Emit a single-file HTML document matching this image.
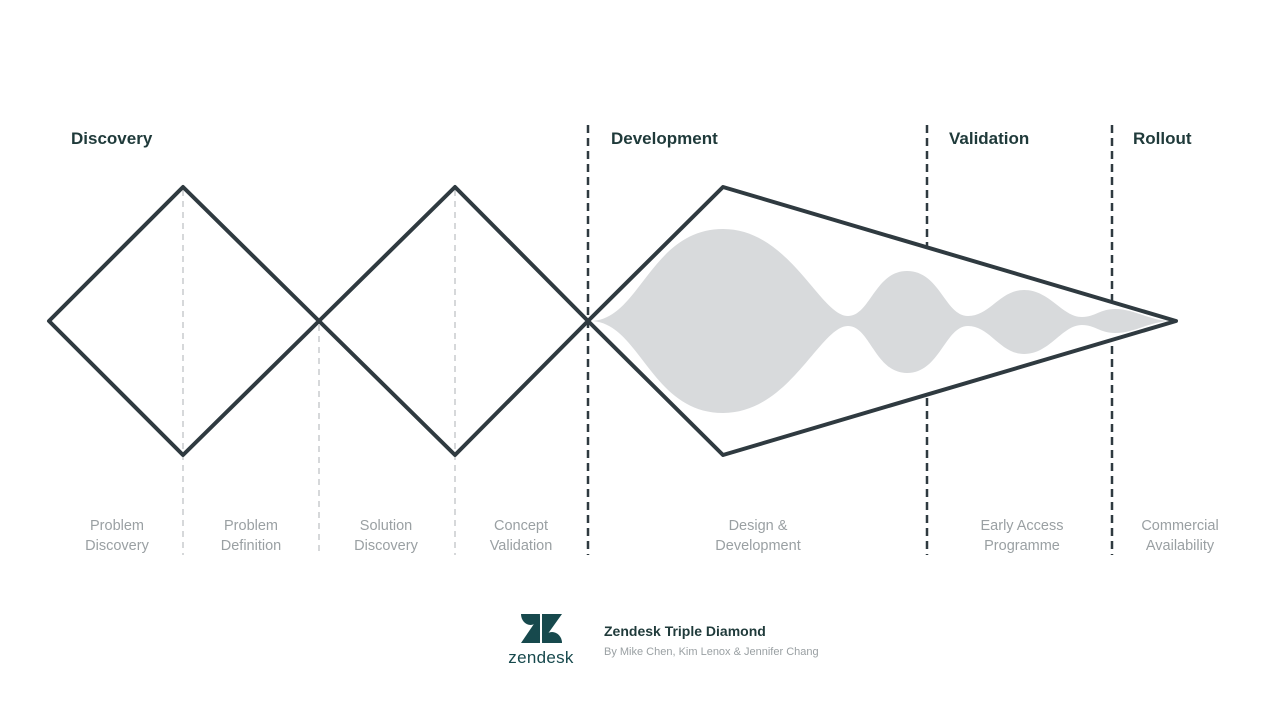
<!DOCTYPE html>
<html><head><meta charset="utf-8"><style>
body{margin:0;background:#fff;width:1280px;height:719px;overflow:hidden;font-family:"Liberation Sans",sans-serif}
</style></head><body>
<svg width="1280" height="719" viewBox="0 0 1280 719" xmlns="http://www.w3.org/2000/svg">
<g stroke="#c8cbcd" stroke-width="1.5" stroke-dasharray="6,5">
<line x1="183" y1="190" x2="183" y2="555"/>
<line x1="319" y1="325" x2="319" y2="555"/>
<line x1="455" y1="190" x2="455" y2="555"/>
</g>
<g stroke="#2f3a40" stroke-width="2.5" stroke-dasharray="8,5">
<line x1="588" y1="125" x2="588" y2="555"/>
<line x1="927" y1="125" x2="927" y2="555"/>
<line x1="1112" y1="125" x2="1112" y2="555"/>
</g>
<polygon points="588,321 723,187 1176,321 723,455" fill="#fff"/>
<path fill="#d8dadc" d="M590,321 C640,321 650,229 723,229 C790,229 820,316 848,316 C870,316 875,271 907,271 C940,271 945,316 968,316 C990,316 1000,290 1024,290 C1050,290 1062,317 1082,317 C1095,317 1100,309 1115,309 C1135,309 1150,321 1172,321 C1150,321 1135,333 1115,333 C1100,333 1095,325 1082,325 C1062,325 1050,354 1024,354 C1000,354 990,326 968,326 C945,326 940,373 907,373 C875,373 870,326 848,326 C820,326 790,413 723,413 C650,413 640,321 590,321 Z"/>
<g fill="none" stroke="#2f3a40" stroke-width="4" stroke-linejoin="round">
<polygon points="49,321 183,187 319,321 183,455"/>
<polygon points="319,321 455,187 588,321 455,455"/>
<polygon points="588,321 723,187 1176,321 723,455"/>
</g>
<g font-weight="bold" font-size="17" fill="#1f3a3a">
<text x="71" y="144">Discovery</text>
<text x="611" y="144">Development</text>
<text x="949" y="144">Validation</text>
<text x="1133" y="144">Rollout</text>
</g>
<g font-size="14.5" fill="#9aa0a3" text-anchor="middle">
<text x="117" y="530">Problem</text><text x="117" y="550">Discovery</text>
<text x="251" y="530">Problem</text><text x="251" y="550">Definition</text>
<text x="386" y="530">Solution</text><text x="386" y="550">Discovery</text>
<text x="521" y="530">Concept</text><text x="521" y="550">Validation</text>
<text x="758" y="530">Design &amp;</text><text x="758" y="550">Development</text>
<text x="1022" y="530">Early Access</text><text x="1022" y="550">Programme</text>
<text x="1180" y="530">Commercial</text><text x="1180" y="550">Availability</text>
</g>
<g fill="#17494d">
<path d="M521,614 L540,614 A9.5,11 0 0 1 521,614 Z"/>
<polygon points="542,614 562,614 542,642"/>
<polygon points="540,615 540,643 521,643"/>
<path d="M542,643 A10,11 0 0 1 562,643 Z"/>
<text x="541" y="663" font-size="17" text-anchor="middle" letter-spacing="0.3">zendesk</text>
</g>
<text x="604" y="636" font-size="14" font-weight="bold" fill="#1f3a3a">Zendesk Triple Diamond</text>
<text x="604" y="655" font-size="11" fill="#9aa0a3">By Mike Chen, Kim Lenox &amp; Jennifer Chang</text>
</svg>
</body></html>
